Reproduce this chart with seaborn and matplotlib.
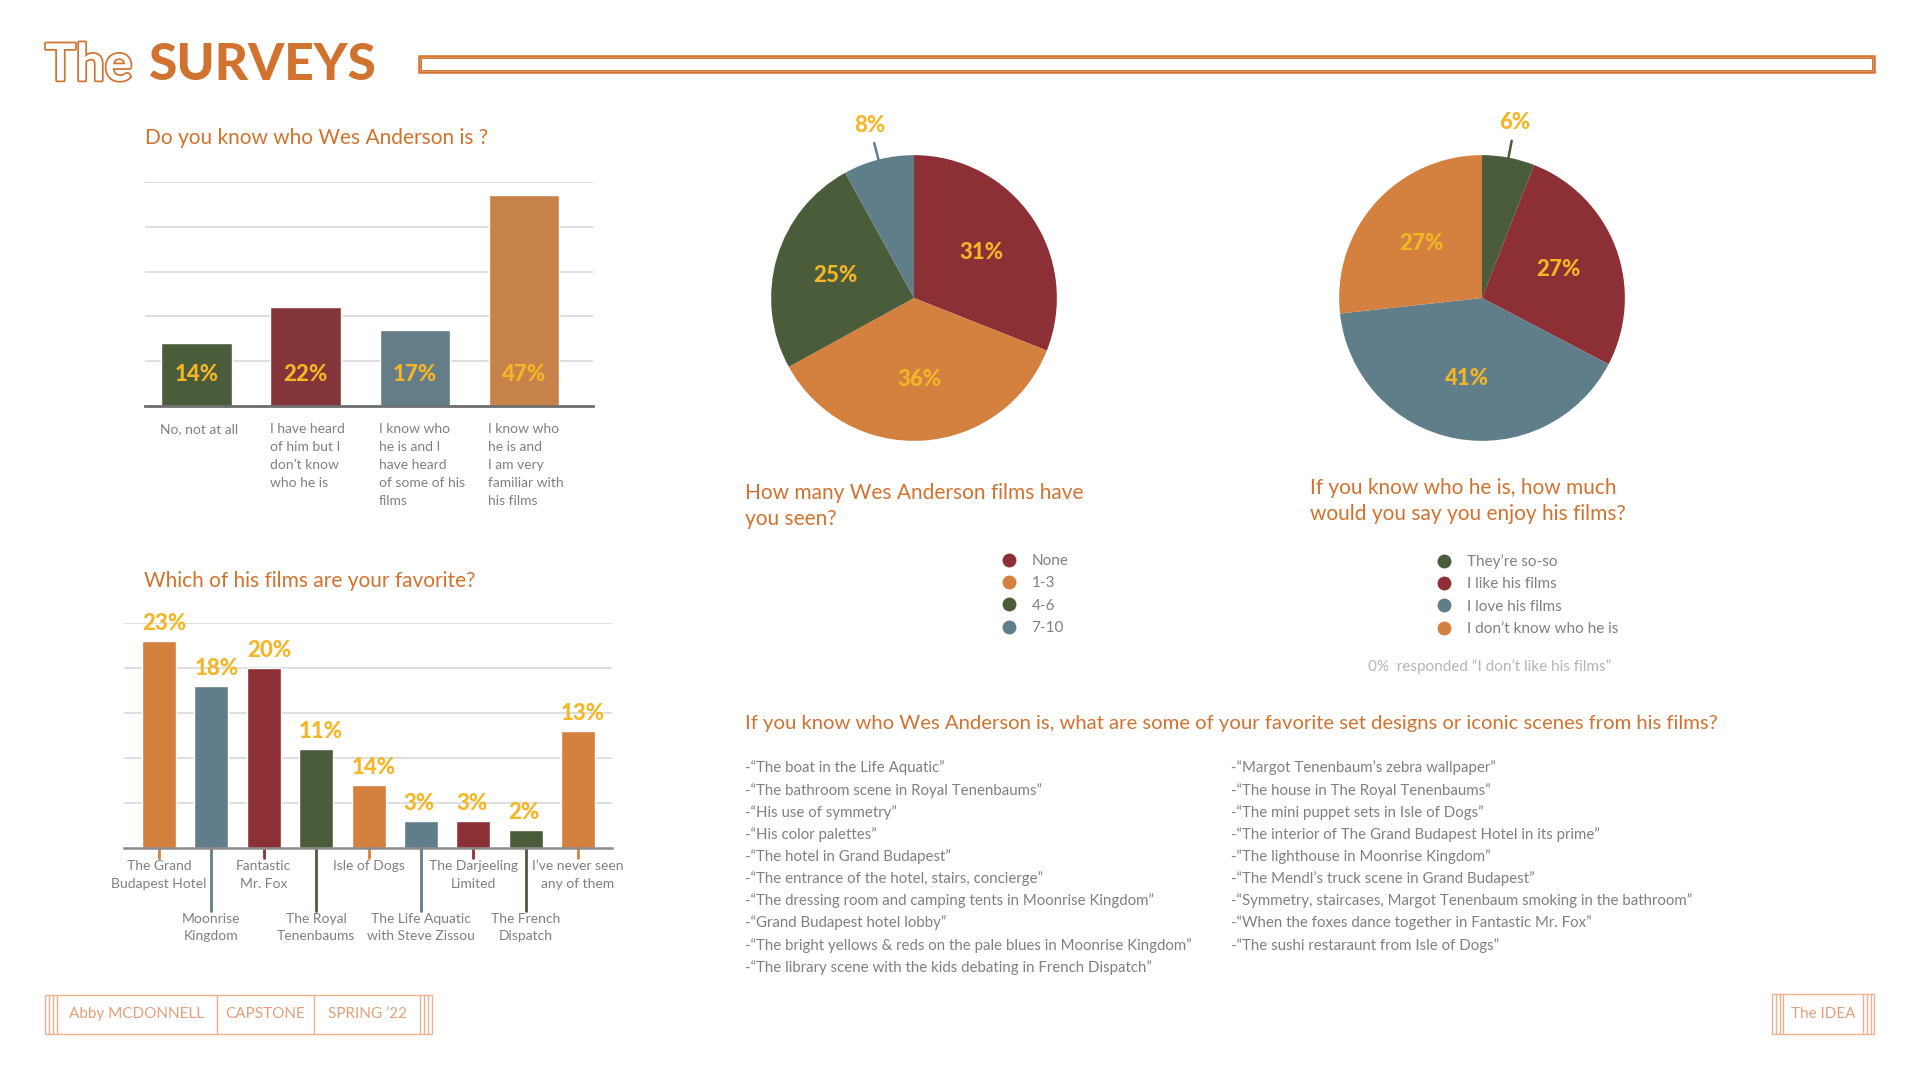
import numpy as np
import matplotlib
matplotlib.use("Agg")
import matplotlib.pyplot as plt
import matplotlib.patheffects as pe
from matplotlib.lines import Line2D
from matplotlib.patches import Rectangle
from matplotlib.transforms import ScaledTranslation
import seaborn as sns

# ---------------- data ----------------
know_labels = ["No, not at all",
               "I have heard\nof him but I\ndon’t know\nwho he is",
               "I know who\nhe is and I\nhave heard\nof some of his\nfilms",
               "I know who\nhe is and\nI am very\nfamiliar with\nhis films"]
know_values = [14, 22, 17, 47]

fav_films = ["The Grand\nBudapest Hotel", "Moonrise\nKingdom", "Fantastic\nMr. Fox",
             "The Royal\nTenenbaums", "Isle of Dogs", "The Life Aquatic\nwith Steve Zissou",
             "The Darjeeling\nLimited", "The French\nDispatch", "I’ve never seen\nany of them"]
fav_values = [23, 18, 20, 11, 7, 3, 3, 2, 13]          # bar heights as drawn
fav_pct = ["23%", "18%", "20%", "11%", "14%", "3%", "3%", "2%", "13%"]  # printed labels

seen_labels = ["None", "1-3", "4-6", "7-10"]
seen_values = [31, 36, 25, 8]

enjoy_labels = ["They’re so-so", "I like his films", "I love his films", "I don’t know who he is"]
enjoy_values = [6, 27, 41, 27]

quotes_left = [
    "-“The boat in the Life Aquatic”",
    "-“The bathroom scene in Royal Tenenbaums”",
    "-“His use of symmetry”",
    "-“His color palettes”",
    "-“The hotel in Grand Budapest”",
    "-“The entrance of the hotel, stairs, concierge”",
    "-“The dressing room and camping tents in Moonrise Kingdom”",
    "-“Grand Budapest hotel lobby”",
    "-“The bright yellows & reds on the pale blues in Moonrise Kingdom”",
    "-“The library scene with the kids debating in French Dispatch”",
]
quotes_right = [
    "-“Margot Tenenbaum’s zebra wallpaper”",
    "-“The house in The Royal Tenenbaums”",
    "-“The mini puppet sets in Isle of Dogs”",
    "-“The interior of The Grand Budapest Hotel in its prime”",
    "-“The lighthouse in Moonrise Kingdom”",
    "-“The Mendl’s truck scene in Grand Budapest”",
    "-“Symmetry, staircases, Margot Tenenbaum smoking in the bathroom”",
    "-“When the foxes dance together in Fantastic Mr. Fox”",
    "-“The sushi restaraunt from Isle of Dogs”",
]

# ---------------- style ----------------
ORANGE = "#D4803F"
RED = "#8C3036"
GREEN = "#4B5C3A"
BLUE = "#5F7E89"
YELLOW = "#F4B526"
TITLE = "#D2722F"
GRAY = "#808080"
GRID = "#dcdcdc"
FOOT = "#EFB08F"
FOOT_TXT = "#E59E78"

know_colors = [GREEN, "#84353A", "#647D88", "#C8834A"]
fav_colors = [ORANGE, BLUE, RED, GREEN, ORANGE, BLUE, RED, GREEN, ORANGE]
seen_colors = [RED, ORANGE, GREEN, BLUE]
enjoy_colors = [GREEN, RED, BLUE, ORANGE]

sns.set_theme(style="white")
plt.rcParams["font.family"] = ["Lato", "DejaVu Sans"]

W, H = 1920, 1080
fig = plt.figure(figsize=(19.2, 10.8), dpi=100)
fig.patch.set_facecolor("white")


def box(x0, y0, x1, y1):
    return [x0 / W, 1 - y1 / H, (x1 - x0) / W, (y1 - y0) / H]


def ftext(x, y, s, **kw):
    return fig.text(x / W, 1 - y / H, s, **kw)


def vline(x, y0, y1, **kw):
    fig.add_artist(Line2D([x / W, x / W], [1 - y0 / H, 1 - y1 / H], transform=fig.transFigure, **kw))


# ---------------- header ----------------
ftext(45, 66, "The", fontsize=37, fontweight="bold", color="white", va="center",
      path_effects=[pe.withStroke(linewidth=2.5, foreground=TITLE)])
ftext(149, 66, "SURVEYS", fontsize=37, fontweight="black", color=TITLE, va="center")
fig.add_artist(Rectangle((419 / W, 1 - 71.5 / H), (1874 - 419) / W, 15.5 / H,
                         transform=fig.transFigure, fill=False, ec=TITLE, lw=1.8))
fig.add_artist(Rectangle((421 / W, 1 - 69.5 / H), (1872 - 421) / W, 11.5 / H,
                         transform=fig.transFigure, fill=False, ec=TITLE, lw=0.7))

# ---------------- chart 1: do you know ----------------
ftext(145, 138, "Do you know who Wes Anderson is ?", fontsize=15, color=TITLE, va="center")
ax1 = fig.add_axes(box(145, 182, 593, 406))
sns.barplot(x=know_labels, y=know_values, hue=know_labels, palette=know_colors,
            legend=False, width=0.645, saturation=1, ax=ax1)
ax1.set_ylim(0, 50)
ax1.set_yticks([10, 20, 30, 40, 50])
ax1.yaxis.grid(True, color=GRID, lw=1.3)
ax1.set_axisbelow(True)
ax1.tick_params(axis="y", length=0, labelleft=False)
sns.despine(ax=ax1, left=True)
ax1.spines["bottom"].set_color("#6e6e6e")
ax1.spines["bottom"].set_linewidth(2)
ax1.set_xlim(-0.47, 3.63)
ax1.set_xlabel("")
ax1.set_ylabel("")
ax1.set_xticks(range(len(know_labels)), know_labels)
ax1.tick_params(axis="x", length=0, pad=12, labelsize=10, labelcolor=GRAY)
plt.setp(ax1.get_xticklabels(), ha="left", linespacing=1.6)
for lab in ax1.get_xticklabels():
    lab.set_transform(lab.get_transform() + ScaledTranslation(-0.36, 0, fig.dpi_scale_trans))
for i, v in enumerate(know_values):
    ax1.text(i, 7, f"{v}%", ha="center", va="center", color=YELLOW, fontsize=16, fontweight="black")

# ---------------- chart 2: favourite films ----------------
ftext(144, 581, "Which of his films are your favorite?", fontsize=15, color=TITLE, va="center")
ax2 = fig.add_axes(box(124, 623, 612, 848))
sns.barplot(x=fav_films, y=fav_values, hue=fav_films, palette=fav_colors,
            legend=False, width=0.65, saturation=1, ax=ax2)
ax2.set_ylim(0, 25)
ax2.set_yticks([5, 10, 15, 20, 25])
ax2.yaxis.grid(True, color=GRID, lw=1.3)
ax2.set_axisbelow(True)
ax2.tick_params(axis="y", length=0, labelleft=False)
sns.despine(ax=ax2, left=True)
ax2.spines["bottom"].set_color("#8a8a8a")
ax2.spines["bottom"].set_linewidth(1.8)
ax2.set_xlim(-0.67, 8.65)
ax2.set_xlabel("")
ax2.set_ylabel("")
for i, (v, s) in enumerate(zip(fav_values, fav_pct)):
    ax2.annotate(s, xy=(i - 0.325, v), xytext=(0, 8), textcoords="offset points",
                 ha="left", va="baseline", color=YELLOW, fontsize=16, fontweight="black")

# alternating label rows, each joined to its bar by a coloured stem
major = list(range(0, len(fav_films), 2))
minor = list(range(1, len(fav_films), 2))
ax2.set_xticks(major, [fav_films[i] for i in major])
ax2.set_xticks(minor, [fav_films[i] for i in minor], minor=True)
ax2.tick_params(axis="x", which="major", length=0, pad=9, labelsize=10, labelcolor=GRAY)
ax2.tick_params(axis="x", which="minor", length=0, pad=47, labelsize=10, labelcolor=GRAY)
plt.setp(ax2.get_xticklabels() + ax2.get_xticklabels(minor=True), linespacing=1.5)
xt = ax2.get_xaxis_transform()
for i in major:
    ax2.plot([i, i], [0, -0.045], transform=xt, clip_on=False, color=fav_colors[i], lw=2)
for i in minor:
    ax2.plot([i, i], [0, -0.28], transform=xt, clip_on=False, color=fav_colors[i], lw=2)


# ---------------- pies ----------------
def draw_pie(ax, values, colors):
    wedges, _ = ax.pie(values, colors=colors, startangle=90, counterclock=False,
                       radius=1, wedgeprops=dict(linewidth=0))
    ax.set_xlim(-1.4, 1.4)
    ax.set_ylim(-1.4, 1.4)
    ax.set_aspect("equal")
    for w, v in zip(wedges, values):
        ang = np.deg2rad((w.theta1 + w.theta2) / 2)
        c, s = np.cos(ang), np.sin(ang)
        if v < 10:
            ax.plot([c * 1.0, c * 1.12], [s * 1.0, s * 1.12], color=w.get_facecolor(), lw=1.8)
            ax.text(c * 1.25, s * 1.25, f"{v}%", ha="center", va="center",
                    color=YELLOW, fontsize=16, fontweight="black")
        else:
            ax.text(c * 0.57, s * 0.57, f"{v}%", ha="center", va="center",
                    color=YELLOW, fontsize=16, fontweight="black")


def legend_at(x, y, labels, colors):
    handles = [Line2D([], [], ls="", marker="o", markersize=10, markerfacecolor=c,
                      markeredgewidth=0) for c in colors]
    fig.legend(handles, labels, loc="upper left", bbox_to_anchor=(x / W, 1 - y / H),
               frameon=False, fontsize=11, labelcolor=GRAY, handlelength=1,
               handletextpad=1.0, labelspacing=0.55, borderpad=0, borderaxespad=0)


axp1 = fig.add_axes(box(714, 98, 1114, 498))
draw_pie(axp1, seen_values, seen_colors)
ftext(745, 506, "How many Wes Anderson films have\nyou seen?", fontsize=15, color=TITLE,
      va="center", linespacing=1.4)
legend_at(1001, 554, seen_labels, seen_colors)

axp2 = fig.add_axes(box(1282, 98, 1682, 498))
draw_pie(axp2, enjoy_values, enjoy_colors)
ftext(1310, 501, "If you know who he is, how much\nwould you say you enjoy his films?", fontsize=15,
      color=TITLE, va="center", linespacing=1.4)
legend_at(1436, 554, enjoy_labels, enjoy_colors)
ftext(1368, 667, "0%  responded “I don’t like his films”", fontsize=11, color="#b5b5b5",
      va="center")

# ---------------- quotes ----------------
ftext(745, 724, "If you know who Wes Anderson is, what are some of your favorite set designs "
      "or iconic scenes from his films?", fontsize=14.6, color=TITLE, va="center")
for i, q in enumerate(quotes_left):
    ftext(745, 768 + i * 22.15, q, fontsize=10.8, color=GRAY, va="center")
for i, q in enumerate(quotes_right):
    ftext(1231, 768 + i * 22.15, q, fontsize=10.8, color=GRAY, va="center")

# ---------------- footer ----------------
fig.add_artist(Rectangle((45 / W, 1 - 1034 / H), (432 - 45) / W, 39 / H,
                         transform=fig.transFigure, fill=False, ec=FOOT, lw=1))
for x in [49, 53, 57, 217, 314, 420, 424, 428]:
    vline(x, 995, 1034, color=FOOT, lw=1)
ftext(137, 1014, "Abby MCDONNELL", fontsize=11, color=FOOT_TXT, ha="center", va="center")
ftext(265.5, 1014, "CAPSTONE", fontsize=11, color=FOOT_TXT, ha="center", va="center")
ftext(367, 1014, "SPRING ’22", fontsize=11, color=FOOT_TXT, ha="center", va="center")

fig.add_artist(Rectangle((1772 / W, 1 - 1034 / H), (1874 - 1772) / W, 40 / H,
                         transform=fig.transFigure, fill=False, ec=FOOT, lw=1))
for x in [1776, 1780, 1783, 1863, 1867, 1871]:
    vline(x, 994, 1034, color=FOOT, lw=1)
ftext(1823, 1014, "The IDEA", fontsize=11, color=FOOT_TXT, ha="center", va="center")

fig.savefig("out.png", dpi=100, facecolor="white")
